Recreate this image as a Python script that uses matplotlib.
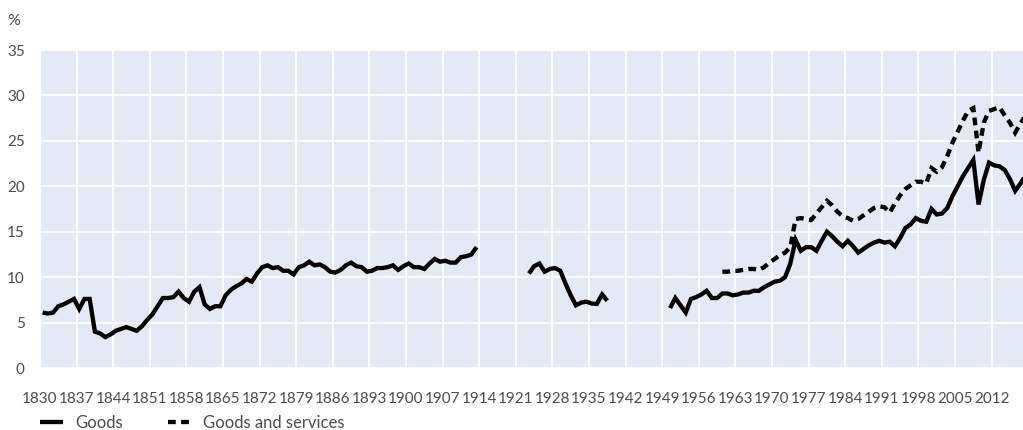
import numpy as np
import matplotlib
matplotlib.use("Agg")
import matplotlib.pyplot as plt
from matplotlib.lines import Line2D

plt.rcParams['font.family'] = ['Lato', 'DejaVu Sans']

# ---------------- data ----------------
years = list(range(1830, 2019))

goods_1830_1913 = [
    6.1, 6.0, 6.1, 6.8, 7.0, 7.3, 7.6, 6.5, 7.6, 7.6,      # 1830-1839
    4.0, 3.8, 3.4, 3.7, 4.1, 4.3, 4.5, 4.3, 4.1, 4.6,      # 1840-1849
    5.3, 5.9, 6.8, 7.7, 7.7, 7.8, 8.4, 7.7, 7.3, 8.4,      # 1850-1859
    8.9, 7.0, 6.5, 6.8, 6.8, 8.0, 8.6, 9.0, 9.3, 9.8,      # 1860-1869
    9.5, 10.4, 11.1, 11.3, 11.0, 11.1, 10.7, 10.7, 10.3, 11.1,  # 1870-1879
    11.3, 11.7, 11.3, 11.4, 11.1, 10.6, 10.5, 10.8, 11.3, 11.6,  # 1880-1889
    11.2, 11.1, 10.6, 10.7, 11.0, 11.0, 11.1, 11.3, 10.8, 11.2,  # 1890-1899
    11.5, 11.1, 11.1, 10.9, 11.5, 12.0, 11.7, 11.8, 11.6, 11.6,  # 1900-1909
    12.2, 12.3, 12.5, 13.3,                                      # 1910-1913
]
goods_1923_1938 = [
    10.4, 11.2, 11.5, 10.6, 10.9, 11.0, 10.7, 9.3,   # 1923-1930
    8.0, 6.9, 7.2, 7.3, 7.1, 7.05, 8.1, 7.4,         # 1931-1938
]
goods_1950_2018 = [
    6.6, 7.7, 6.9, 6.1, 7.6, 7.8, 8.1, 8.5, 7.7, 7.7,        # 1950-1959
    8.2, 8.2, 8.0, 8.1, 8.3, 8.3, 8.5, 8.5, 8.9, 9.2,        # 1960-1969
    9.5, 9.6, 10.0, 11.5, 14.1, 12.9, 13.3, 13.3, 12.9, 14.0,  # 1970-1979
    15.0, 14.5, 13.9, 13.4, 14.0, 13.4, 12.7, 13.1, 13.5, 13.8,  # 1980-1989
    14.0, 13.8, 13.9, 13.4, 14.3, 15.4, 15.8, 16.5, 16.2, 16.1,  # 1990-1999
    17.5, 16.9, 17.0, 17.6, 18.9, 20.0, 21.1, 22.0, 22.9, 18.0,  # 2000-2009
    20.7, 22.6, 22.3, 22.2, 21.8, 20.8, 19.5, 20.3, 21.2,        # 2010-2018
]
gs_1960_2018 = [
    10.6, 10.6, 10.7, 10.7, 10.8, 10.9, 10.9, 10.8, 11.1, 11.6,  # 1960-1969
    12.0, 12.4, 12.7, 13.3, 16.4, 16.5, 16.4, 16.3, 17.0, 17.7,  # 1970-1979
    18.4, 17.9, 17.2, 16.7, 16.5, 16.2, 16.4, 16.8, 17.2, 17.6,  # 1980-1989
    17.8, 17.7, 17.1, 18.1, 19.0, 19.7, 20.1, 20.5, 20.5, 20.3,  # 1990-1999
    22.0, 21.6, 22.1, 23.3, 24.8, 26.0, 27.2, 28.3, 28.6, 23.7,  # 2000-2009
    27.0, 28.3, 28.5, 28.7, 27.8, 27.0, 25.9, 26.9, 27.8,        # 2010-2018
]

def build(n_years, pieces):
    arr = np.full(n_years, np.nan)
    for start, vals in pieces:
        i = start - years[0]
        arr[i:i + len(vals)] = vals
    return arr

goods = build(len(years), [(1830, goods_1830_1913), (1923, goods_1923_1938), (1950, goods_1950_2018)])
goods_services = build(len(years), [(1960, gs_1960_2018)])

tick_years = list(range(1830, 2013, 7))
y_ticks = [0, 5, 10, 15, 20, 25, 30, 35]
series_labels = ["Goods", "Goods and services"]

# ---------------- figure ----------------
W, H = 1023, 430
fig = plt.figure(figsize=(W / 100, H / 100), dpi=100)
ax = fig.add_axes([40 / W, 1 - 368 / H, (1023 - 40) / W, (368 - 50) / H])

bg = "#E3E9F5"
txt = "#4d4d4d"
ax.set_facecolor(bg)
for s in ax.spines.values():
    s.set_visible(False)

lw = 3.1
ax.plot(years, goods, color="black", lw=lw, solid_joinstyle="miter", solid_capstyle="butt", zorder=3)
ax.plot(years, goods_services, color="black", lw=lw, dashes=(1.8, 1.25),
        dash_capstyle="butt", dash_joinstyle="miter", zorder=3)

ax.set_xlim(1829.5, 2017.5)
ax.set_ylim(0, 35)
ax.set_xticks([t - 0.5 for t in tick_years])
ax.set_xticklabels([str(t) for t in tick_years])
ax.set_yticks(y_ticks)
ax.set_yticklabels([str(v) for v in y_ticks])
ax.grid(True, color="white", lw=1.3)
ax.set_axisbelow(True)
ax.tick_params(axis="both", length=0, labelsize=11, colors=txt)
ax.tick_params(axis="x", pad=17)
ax.tick_params(axis="y", pad=11)

fig.text(14 / W, 1 - 21 / H, "%", ha="center", va="center", fontsize=11.5, color=txt)

handles = [
    Line2D([], [], color="black", lw=lw, solid_capstyle="butt"),
    Line2D([], [], color="black", lw=lw, dashes=(1.8, 1.25), dash_capstyle="butt"),
]
leg = fig.legend(handles, series_labels, loc="center left",
                 bbox_to_anchor=(40 / W, 1 - 423 / H), ncol=2, frameon=False,
                 fontsize=12, handlelength=1.38, handletextpad=0.72,
                 columnspacing=2.7, borderaxespad=0, borderpad=0)
for t in leg.get_texts():
    t.set_color(txt)

fig.savefig("out.png", dpi=100, facecolor="white")
